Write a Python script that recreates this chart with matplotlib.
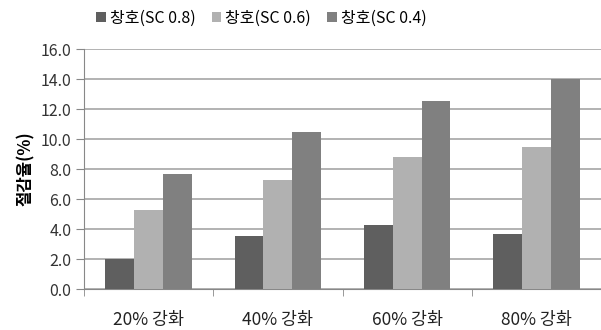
import numpy as np
import matplotlib.pyplot as plt

plt.rcParams['font.family'] = ['Noto Sans CJK KR', 'DejaVu Sans']

categories = ['20% 강화', '40% 강화', '60% 강화', '80% 강화']
series_names = ['창호(SC 0.8)', '창호(SC 0.6)', '창호(SC 0.4)']
sc08 = [2.0, 3.55, 4.3, 3.7]
sc06 = [5.3, 7.3, 8.8, 9.5]
sc04 = [7.7, 10.45, 12.55, 14.0]
colors = ['#5f5f5f', '#b1b1b1', '#808080']

fig = plt.figure(figsize=(6.01, 3.30), dpi=100)
ax = fig.add_axes([84 / 601, 41 / 330, 517 / 601, 240 / 330])

x = np.arange(len(categories))
w = 0.223
for i, (vals, name) in enumerate(zip([sc08, sc06, sc04], series_names)):
    ax.bar(x + (i - 1) * w, vals, w, color=colors[i], label=name, zorder=3)

ax.set_xlim(-0.5, len(categories) - 0.5)
ax.set_ylim(0, 16)
ax.set_yticks(np.arange(0, 16.1, 2))
ax.set_yticklabels(['%.1f' % v for v in np.arange(0, 16.1, 2)], fontsize=11.5, color='#333333')
ax.set_xticks(x)
ax.set_xticklabels(categories, fontsize=12.5, color='#222222')
ax.set_xticks(np.arange(-0.5, len(categories) + 0.5, 1), minor=True)
ax.tick_params(axis='x', which='major', length=0, pad=16)
ax.tick_params(axis='x', which='minor', length=5, color='#888888', direction='out')
ax.tick_params(axis='y', length=6, color='#888888', pad=3)

ax.grid(axis='y', color='#a6a6a6', linewidth=1.2, zorder=0)
for s in ['top', 'right']:
    ax.spines[s].set_visible(False)
ax.spines['left'].set_color('#888888')
ax.spines['bottom'].set_color('#888888')

ax.set_ylabel('절감율(%)', fontsize=12, fontweight='bold', labelpad=4)

fig.legend(loc='upper center', bbox_to_anchor=(0.435, 1.015), ncol=3, frameon=False,
           fontsize=11.5, handlelength=0.6, handleheight=0.6, handletextpad=0.25,
           columnspacing=1.0)

fig.savefig('out.png', dpi=100)
